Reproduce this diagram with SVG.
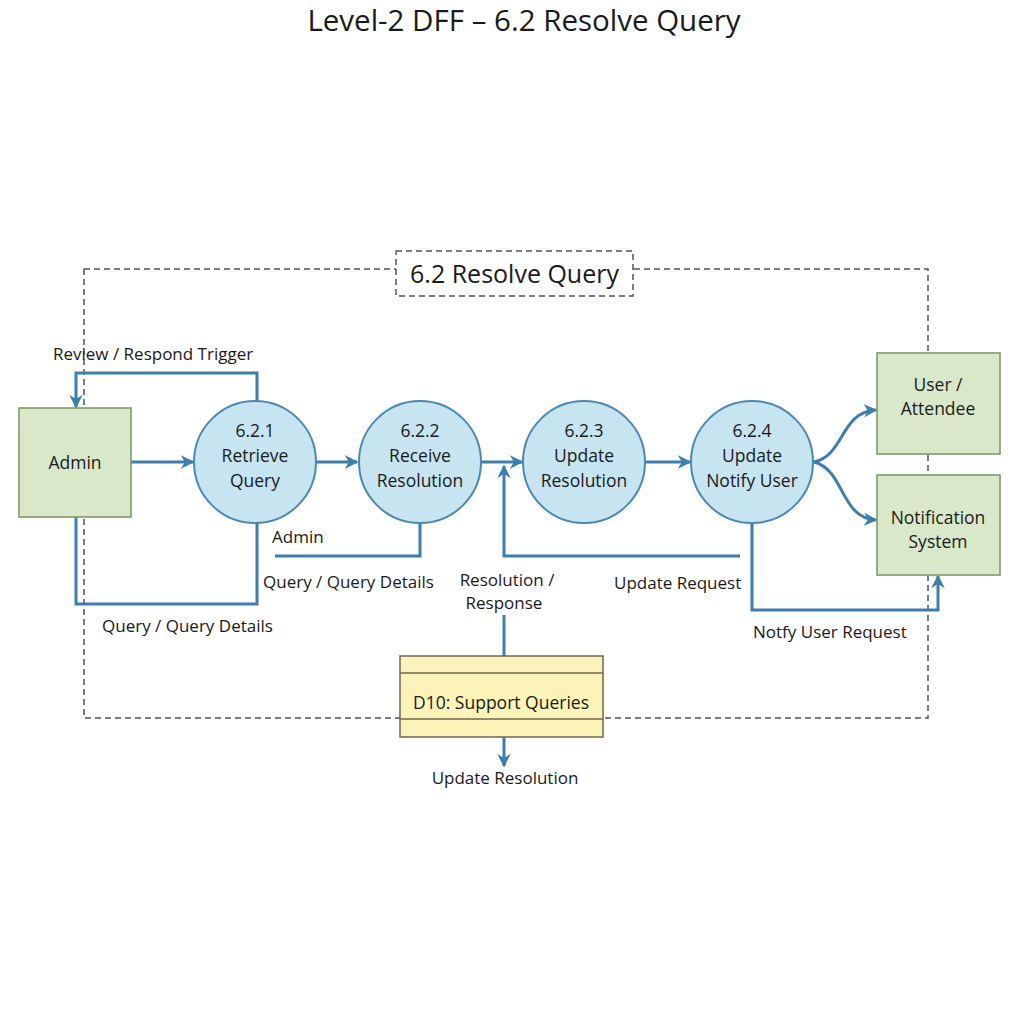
<svg xmlns="http://www.w3.org/2000/svg" width="1024" height="1024" viewBox="0 0 1024 1024">
<defs>
<marker id="ah" viewBox="0 0 10 10" refX="9" refY="5" markerWidth="4.5" markerHeight="4.5" orient="auto-start-reverse" markerUnits="strokeWidth">
<path d="M0,0 L10,5 L0,10 L3,5 Z" fill="#3a7fae"/>
</marker>
<style>
text{font-family:"Open Sans","Noto Sans","Liberation Sans",sans-serif;fill:#1a1a1a}
.title{font-size:29.5px;text-anchor:middle}
.node{font-size:17.5px;text-anchor:middle}
.lbl{font-size:17px}
.ext{fill:#d9e8c9;stroke:#7d9c66;stroke-width:1.6}
.proc{fill:#c7e4f1;stroke:#4a8ab2;stroke-width:2}
.flow{fill:none;stroke:#3a7fae;stroke-width:3}
.dash{fill:none;stroke:#555;stroke-width:1.5;stroke-dasharray:6 4}
</style>
</defs>
<rect width="1024" height="1024" fill="#ffffff"/>
<text class="title" x="524" y="31">Level-2 DFF – 6.2 Resolve Query</text>

<g id="boundary">
<rect class="dash" x="84" y="269" width="844" height="449"/>
<rect x="396" y="251" width="237" height="45" fill="#ffffff" stroke="#555" stroke-width="1.5" stroke-dasharray="6 4"/>
<text x="514.5" y="283" font-size="25" text-anchor="middle">6.2 Resolve Query</text>
</g>

<g id="connectors">
<line class="flow" x1="131" y1="462" x2="193" y2="462" marker-end="url(#ah)"/>
<polyline class="flow" points="257,401 257,373 76,373 76,407" marker-end="url(#ah)"/>
<polyline class="flow" points="76,517 76,604 257,604 257,523"/>
<line class="flow" x1="316" y1="462" x2="357" y2="462" marker-end="url(#ah)"/>
<polyline class="flow" points="420,523 420,556 275,556"/>
<line class="flow" x1="481" y1="462" x2="522" y2="462" marker-end="url(#ah)"/>
<polyline class="flow" points="740,556 504,556 504,466" marker-end="url(#ah)"/>
<line class="flow" x1="504" y1="656" x2="504" y2="615"/>
<line class="flow" x1="645" y1="462" x2="690" y2="462" marker-end="url(#ah)"/>
<path class="flow" d="M814,462 C845,455 840,412 876,410" marker-end="url(#ah)"/>
<path class="flow" d="M814,462 C845,470 840,518 876,520" marker-end="url(#ah)"/>
<polyline class="flow" points="752,523 752,610 938,610 938,576" marker-end="url(#ah)"/>
<line class="flow" x1="504" y1="737" x2="504" y2="766" marker-end="url(#ah)"/>
<text class="lbl" x="53" y="360">Review / Respond Trigger</text>
<text class="lbl" x="102" y="632">Query / Query Details</text>
<text class="lbl" x="272" y="543">Admin</text>
<text class="lbl" x="263" y="588">Query / Query Details</text>
<text class="lbl" x="507" y="586" text-anchor="middle">Resolution /</text>
<text class="lbl" x="504" y="609" text-anchor="middle">Response</text>
<text class="lbl" x="614" y="589">Update Request</text>
<text class="lbl" x="753" y="638">Notfy User Request</text>
<text class="lbl" x="505" y="784" text-anchor="middle">Update Resolution</text>
</g>

<g id="admin">
<rect class="ext" x="19" y="408" width="112" height="109"/>
<text class="node" x="75" y="469">Admin</text>
</g>
<g id="p621">
<circle class="proc" cx="255" cy="462" r="61"/>
<text class="node" x="255" y="437">6.2.1</text>
<text class="node" x="255" y="462">Retrieve</text>
<text class="node" x="255" y="487">Query</text>
</g>
<g id="p622">
<circle class="proc" cx="420" cy="462" r="61"/>
<text class="node" x="420" y="437">6.2.2</text>
<text class="node" x="420" y="462">Receive</text>
<text class="node" x="420" y="487">Resolution</text>
</g>
<g id="p623">
<circle class="proc" cx="584" cy="462" r="61"/>
<text class="node" x="584" y="437">6.2.3</text>
<text class="node" x="584" y="462">Update</text>
<text class="node" x="584" y="487">Resolution</text>
</g>
<g id="p624">
<circle class="proc" cx="752" cy="462" r="61"/>
<text class="node" x="752" y="437">6.2.4</text>
<text class="node" x="752" y="462">Update</text>
<text class="node" x="752" y="487">Notify User</text>
</g>
<g id="user">
<rect class="ext" x="877" y="353" width="123" height="101"/>
<text class="node" x="938" y="391">User /</text>
<text class="node" x="938" y="415">Attendee</text>
</g>
<g id="notif">
<rect class="ext" x="877" y="475" width="123" height="100"/>
<text class="node" x="938" y="524">Notification</text>
<text class="node" x="938" y="548">System</text>
</g>
<g id="d10">
<rect x="400" y="656" width="203" height="81" fill="#fbf3b8" stroke="#6e6a4a" stroke-width="1.5"/>
<line x1="400" y1="673" x2="603" y2="673" stroke="#6e6a4a" stroke-width="1.3"/>
<line x1="400" y1="719" x2="603" y2="719" stroke="#6e6a4a" stroke-width="1.3"/>
<text x="501" y="709" font-size="17.5" text-anchor="middle">D10: Support Queries</text>
</g>
</svg>
